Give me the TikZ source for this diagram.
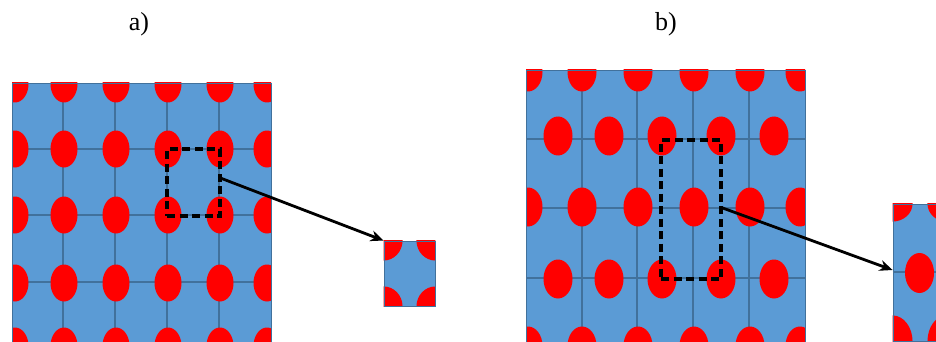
\documentclass[tikz,border=0pt]{standalone}
\usepackage{fontspec}
\setmainfont{Liberation Serif}
\usetikzlibrary{arrows.meta}
\definecolor{cellblue}{HTML}{5B9BD5}
\definecolor{gridblue}{HTML}{41719C}
\definecolor{dotred}{HTML}{FF0000}
\begin{document}
\begin{tikzpicture}[x=1pt,y=-1pt,
  gridline/.style={draw=gridblue,line width=1.3pt},
  dotA/.style={fill=dotred,draw=none},
  dashbox/.style={draw=black,line width=3.3pt,dash pattern=on 8pt off 4.5pt,rectangle,inner sep=0pt},
  unitcell/.style={draw=gridblue,line width=0.9pt,rectangle,inner sep=0pt},
  pointer/.style={draw=black,line width=2.8pt,-{Stealth[length=13pt,width=11pt]}},
  lbl/.style={font=\fontsize{26}{30}\selectfont,inner sep=0pt}]
\useasboundingbox (0,0) rectangle (936,342);
% labels
\node[lbl] (la) at (139,24) {a)};
\node[lbl] (lb) at (666,24) {b)};
% ---------- panel a
\begin{scope}
\clip (12,83) rectangle (271,360);
\fill[cellblue] (12,83) rectangle (271,360);
\foreach \x in {63,115,167,219} \draw[gridline] (\x,83) -- (\x,360);
\foreach \y in {149,215,282} \draw[gridline] (12,\y) -- (271,\y);
\foreach \y in {84,149,215,283,346}
  \foreach \x in {15,64,116,168,220,267}
    \fill[dotA] (\x,\y) ellipse [x radius=13.5, y radius=18.5];
\end{scope}
\draw[gridblue,line width=0.9pt] (12,360) -- (12,83) -- (271,83) -- (271,360);
\node[dashbox,minimum width=53pt,minimum height=67pt] (boxa) at (193.5,182.5) {};
% small cell a
\node[unitcell,minimum width=51pt,minimum height=65pt] (cella) at (409.5,273.5) {};
\begin{scope}
\clip (cella.south west) rectangle (cella.north east);
\fill[cellblue] (cella.south west) rectangle (cella.north east);
\foreach \c in {north west,north east,south west,south east}
  \fill[dotA] (cella.\c) ellipse [x radius=19, y radius=20];
\end{scope}
\node[unitcell,minimum width=51pt,minimum height=65pt] at (409.5,273.5) {};
\draw[pointer] (boxa.east) ++(0,-4) coordinate (sa) -- (cella.north west);
% ---------- panel b
\begin{scope}
\clip (526,70) rectangle (805,360);
\fill[cellblue] (526,70) rectangle (805,360);
\foreach \x in {582,637,693,749} \draw[gridline] (\x,70) -- (\x,360);
\foreach \y in {139,208,278} \draw[gridline] (526,\y) -- (805,\y);
\foreach \y in {72,207,346}
  \foreach \x in {528,582,638,694,750,800}
    \fill[dotA] (\x,\y) ellipse [x radius=14.5, y radius=19.5];
\foreach \y in {136,279}
  \foreach \x in {558,609,662,721,774}
    \fill[dotA] (\x,\y) ellipse [x radius=14.5, y radius=19.5];
\end{scope}
\draw[gridblue,line width=0.9pt] (526,360) -- (526,70) -- (805,70) -- (805,360);
\node[dashbox,minimum width=60pt,minimum height=139pt] (boxb) at (691,209.5) {};
% small cell b
\node[unitcell,minimum width=53pt,minimum height=137pt] (cellb) at (919.5,272.5) {};
\begin{scope}
\clip (cellb.south west) rectangle (cellb.north east);
\fill[cellblue] (cellb.south west) rectangle (cellb.north east);
\draw[gridline] (cellb.west) ++(0,-0.5) -- ++(53,0);
\fill[dotA] (cellb.north west) ellipse [x radius=20, y radius=18];
\fill[dotA] (cellb.north east) ellipse [x radius=19, y radius=18];
\fill[dotA] (cellb.south west) ellipse [x radius=20, y radius=26];
\fill[dotA] (cellb.south east) ellipse [x radius=19, y radius=26];
\fill[dotA] (919.5,273) ellipse [x radius=14.5, y radius=20];
\end{scope}
\node[unitcell,minimum width=53pt,minimum height=137pt] at (919.5,272.5) {};
\draw[pointer] (boxb.east) ++(0,-1.5) coordinate (sb) -- ([yshift=2.5pt]cellb.west);
\end{tikzpicture}
\end{document}
